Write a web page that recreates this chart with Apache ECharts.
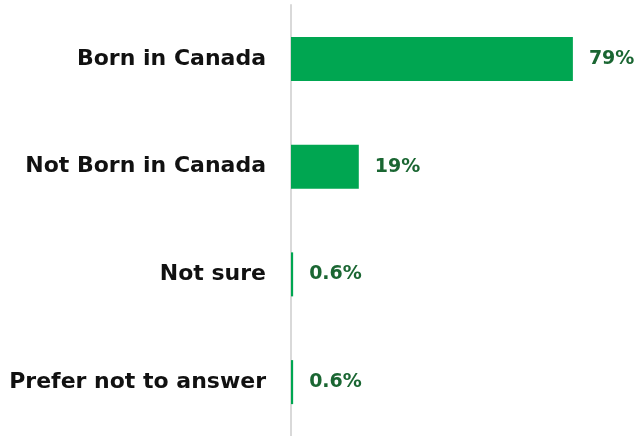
<!DOCTYPE html>
<html><head><meta charset="utf-8">
<script src="https://cdn.jsdelivr.net/npm/echarts@6/dist/echarts.min.js"></script>
<style>html,body{margin:0;padding:0;background:#fff}#c{width:640px;height:436px}</style>
</head><body><div id="c"></div>
<script>
const categories = ["Born in Canada", "Not Born in Canada", "Not sure", "Prefer not to answer"];
const values = [79, 19, 0.6, 0.6];
const labels = ["79%", "19%", "0.6%", "0.6%"];

const chart = echarts.init(document.getElementById('c'), null, {renderer: 'canvas'});
chart.setOption({
  animation: false,
  grid: {left: 291, top: 5, width: 314, height: 434, containLabel: false},
  xAxis: {type: 'value', min: 0, max: 88, show: false},
  yAxis: {
    type: 'category', inverse: true, data: categories,
    axisLine: {show: true, lineStyle: {color: '#d9d9d9', width: 2}},
    axisTick: {show: false},
    axisLabel: {margin: 25, color: '#111', fontFamily: 'DejaVu Sans', fontWeight: 'bold', fontSize: 22}
  },
  series: [{
    type: 'bar', data: values, barWidth: 44,
    itemStyle: {color: '#00a651'},
    label: {show: true, position: 'right', distance: 16, color: '#1a6632',
      fontFamily: 'DejaVu Sans', fontWeight: 'bold', fontSize: 19,
      formatter: p => labels[p.dataIndex]}
  }]
});
</script></body></html>
